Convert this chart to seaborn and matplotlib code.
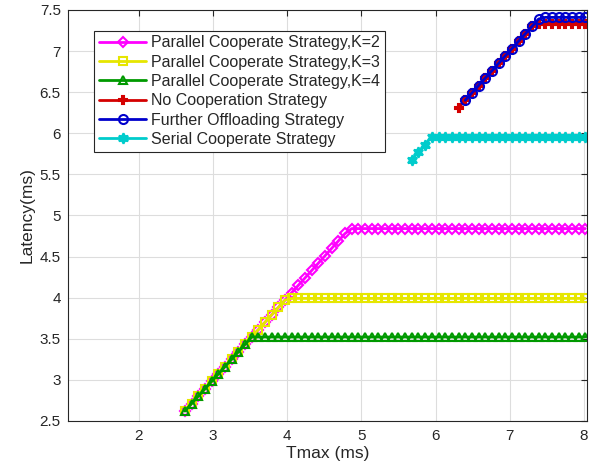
import matplotlib
matplotlib.use("Agg")
import matplotlib.pyplot as plt
import seaborn as sns
import pandas as pd

# Tmax values (ms)
tmax = [2.62, 2.71, 2.80, 2.89, 2.98, 3.07, 3.16, 3.25, 3.34, 3.43,
        3.52, 3.61, 3.70, 3.79, 3.88, 3.97, 4.06, 4.15, 4.24, 4.33,
        4.42, 4.51, 4.60, 4.69, 4.78, 4.87, 4.96, 5.05, 5.14, 5.23,
        5.32, 5.41, 5.50, 5.59, 5.68, 5.77, 5.86, 5.95, 6.04, 6.13,
        6.22, 6.31, 6.40, 6.49, 6.58, 6.67, 6.76, 6.85, 6.94, 7.03,
        7.12, 7.21, 7.30, 7.39, 7.48, 7.57, 7.66, 7.75, 7.84, 7.93, 8.02]

# Latency (ms) per strategy: rising part, then the plateau value
k2 = [2.62, 2.71, 2.80, 2.89, 2.98, 3.07, 3.16, 3.25, 3.34, 3.43,
      3.52, 3.61, 3.70, 3.79, 3.88, 3.97, 4.06, 4.15, 4.24, 4.33,
      4.42, 4.51, 4.60, 4.69, 4.78] + [4.84] * 36
k3 = [2.62, 2.71, 2.80, 2.89, 2.98, 3.07, 3.16, 3.25, 3.34, 3.43,
      3.52, 3.61, 3.70, 3.79, 3.88, 3.97] + [3.99] * 45
k4 = [2.62, 2.71, 2.80, 2.89, 2.98, 3.07, 3.16, 3.25, 3.34, 3.43] + [3.52] * 51
no_coop = [6.31, 6.40, 6.49, 6.58, 6.67, 6.76, 6.85, 6.94, 7.03, 7.12,
           7.21, 7.30] + [7.33] * 8
further = [6.40, 6.49, 6.58, 6.67, 6.76, 6.85, 6.94, 7.03, 7.12, 7.21,
           7.30, 7.39] + [7.41] * 7
serial = [5.68, 5.77, 5.86] + [5.96] * 24

series = [
    ("Parallel Cooperate Strategy,K=2", k2, "#ff00ff", "D", False, 5),
    ("Parallel Cooperate Strategy,K=3", k3, "#e6e600", "s", False, 5.5),
    ("Parallel Cooperate Strategy,K=4", k4, "#009900", "^", False, 6),
    ("No Cooperation Strategy", no_coop, "#d40000", "P", True, 5.5),
    ("Further Offloading Strategy", further, "#0000cc", "o", False, 6.5),
    ("Serial Cooperate Strategy", serial, "#00cccc", (6, 1, 0), True, 7.5),
]

sns.set_style("white")
plt.rcParams["font.family"] = ["Liberation Sans", "DejaVu Sans"]

fig = plt.figure(figsize=(6, 4.75), dpi=100)
ax = fig.add_axes([0.113, 0.114, 0.865, 0.865])

for name, vals, color, marker, filled, ms in series:
    df = pd.DataFrame({"Tmax": tmax[-len(vals):], "Latency": vals})
    sns.lineplot(data=df, x="Tmax", y="Latency", ax=ax, color=color,
                 marker=marker, markersize=ms, markeredgewidth=1.5,
                 markeredgecolor=color,
                 markerfacecolor=color if filled else "none",
                 linewidth=2, label=name, sort=False, estimator=None)

ax.set_xlim(1.04, 8.04)
ax.set_ylim(2.5, 7.5)
ax.set_xticks([2, 3, 4, 5, 6, 7, 8])
ax.set_yticks([2.5, 3, 3.5, 4, 4.5, 5, 5.5, 6, 6.5, 7, 7.5])
ax.set_yticklabels(["2.5", "3", "3.5", "4", "4.5", "5", "5.5", "6", "6.5", "7", "7.5"])
ax.grid(True, color="#dddddd", linewidth=0.8)
ax.tick_params(direction="in", top=True, right=True, length=4,
               labelsize=11, colors="#262626")
ax.tick_params(axis="x", pad=6)
ax.tick_params(axis="y", pad=5)
for sp in ax.spines.values():
    sp.set_color("#262626")
    sp.set_linewidth(0.8)
ax.set_xlabel("Tmax (ms)", fontsize=12.5, color="#262626", labelpad=2)
ax.set_ylabel("Latency(ms)", fontsize=12.5, color="#262626", labelpad=4)

leg = ax.legend(loc="upper left", bbox_to_anchor=(0.05, 0.95), borderaxespad=0,
                fontsize=11.5, frameon=True, fancybox=False, framealpha=1,
                edgecolor="#262626", handlelength=3.0, labelspacing=0.27,
                borderpad=0.3, handletextpad=0.3)
leg.get_frame().set_linewidth(0.8)

fig.savefig("out.png", dpi=100)
